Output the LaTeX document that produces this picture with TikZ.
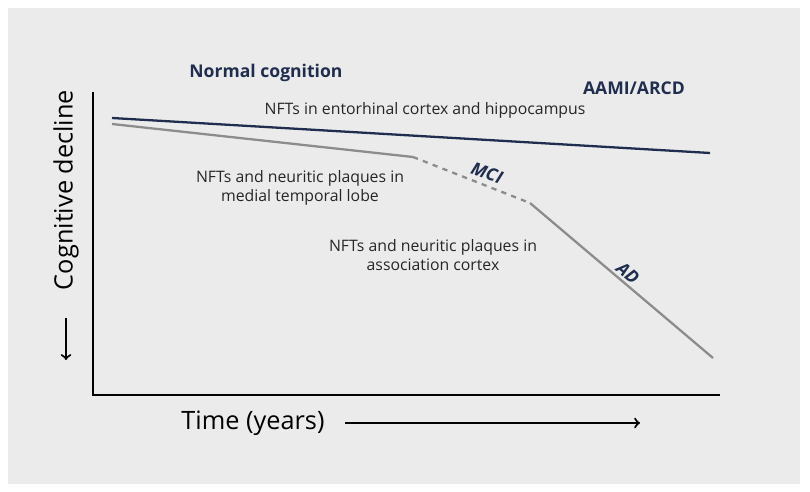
\documentclass[tikz,border=0pt]{standalone}
\usepackage{fontspec}
\setmainfont{Open Sans}
\definecolor{navy}{HTML}{1F2D4E}
\definecolor{panel}{HTML}{EBEBEB}
\definecolor{curve}{HTML}{8C8C8C}
\tikzset{label text/.style={font=\small, align=center, text=black!85},
  stage text/.style={font=\bfseries, text=navy}}
\begin{document}
\begin{tikzpicture}[x=0.02cm,y=-0.02cm]
\useasboundingbox (0,0) rectangle (810,492);
\fill[panel] (8,8) rectangle (800,484);

\coordinate (o) at (93,395);
\coordinate (ytop) at (93,92);
\coordinate (xend) at (720,395);
\draw[black, line width=1.2pt] (ytop) -- (o) -- (xend);

\coordinate (n1) at (112,118);
\coordinate (n2) at (710,153);
\draw[navy, line width=1.3pt] (n1) -- (n2);

\coordinate (g1) at (112,124);
\coordinate (g2) at (413,157);
\coordinate (g3) at (530,203);
\coordinate (g4) at (713,358);
\draw[curve, line width=1.3pt] (g1) -- (g2);
\draw[curve, line width=1.3pt, dashed] (g2) -- (g3);
\draw[curve, line width=1.3pt] (g3) -- (g4);

\node[stage text] (normal) at (266,73) {Normal cognition};
\node[stage text] (aami) at (634,88) {AAMI/ARCD};
\node[stage text, font=\bfseries\itshape, rotate=-20] (mci) at (487,173) {MCI};
\node[stage text, font=\bfseries\itshape, rotate=-40] (ad) at (628,273) {AD};

\node[label text] (ento) at (425,110) {NFTs in entorhinal cortex and hippocampus};
\node[label text] (medial) at (300,188) {NFTs and neuritic plaques in\\medial temporal lobe};
\node[label text] (assoc) at (433,255) {NFTs and neuritic plaques in\\association cortex};

\node[rotate=90, font=\Large] (cog) at (66,190) {Cognitive decline};
\coordinate (ca) at (66,318);
\coordinate (cb) at (66,360);
\draw[->, line width=1.2pt] (ca) -- (cb);

\node[font=\Large] (time) at (253,423) {Time (years)};
\coordinate (ta) at (345,423);
\coordinate (tb) at (640,423);
\draw[->, line width=1.2pt] (ta) -- (tb);
\end{tikzpicture}
\end{document}
